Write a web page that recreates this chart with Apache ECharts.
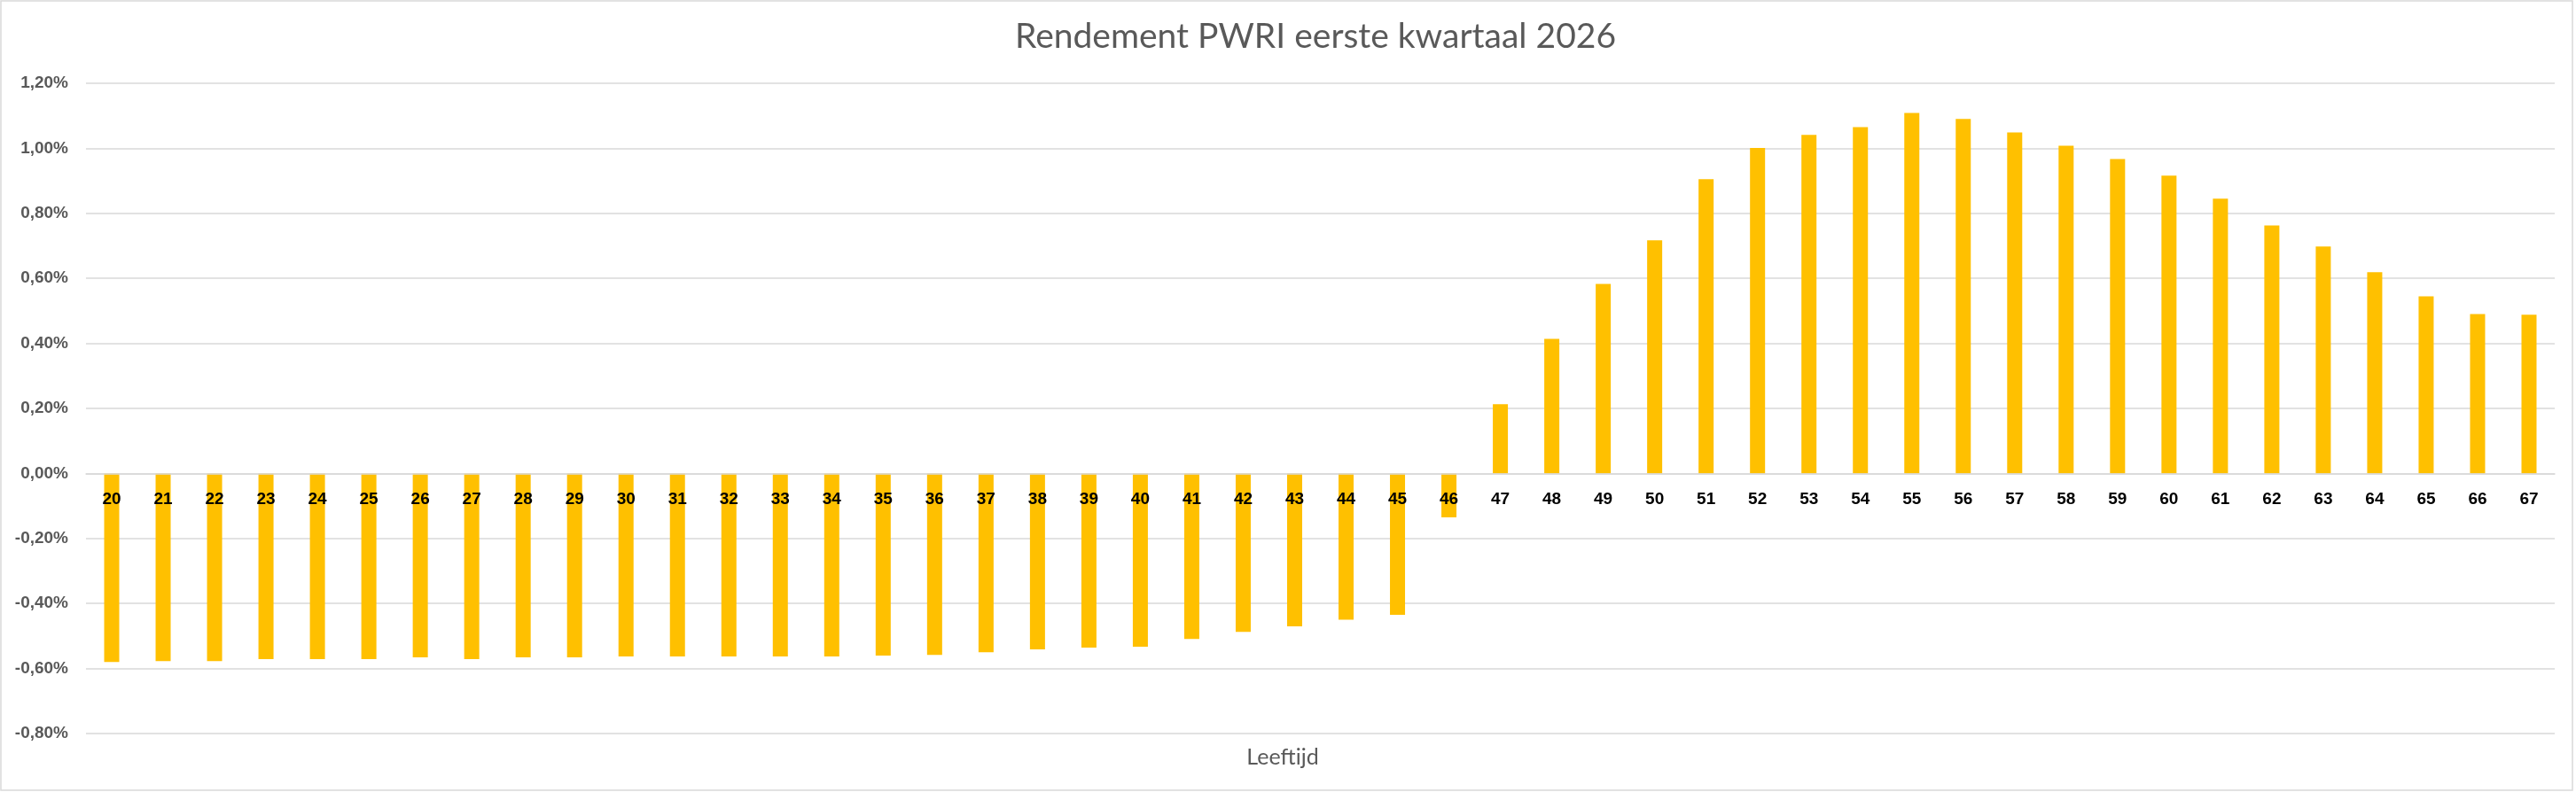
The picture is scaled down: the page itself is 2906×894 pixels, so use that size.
<!DOCTYPE html>
<html lang="nl">
<head>
    <title>Rendement PWRI eerste kwartaal 2026</title>
    <meta charset="utf-8" />
    <script src="https://cdn.jsdelivr.net/npm/echarts@6/dist/echarts.min.js"></script>
    <style>
        body {
            margin: 0;
            background-color: #ffffff;
        }

        #main {
            width: 2906px;
            height: 894px;
        }
    </style>
    <script>
        // leeftijden 20 t/m 67
        let ages = ['20', '21', '22', '23', '24', '25', '26', '27', '28', '29',
            '30', '31', '32', '33', '34', '35', '36', '37', '38', '39',
            '40', '41', '42', '43', '44', '45', '46', '47', '48', '49',
            '50', '51', '52', '53', '54', '55', '56', '57', '58', '59',
            '60', '61', '62', '63', '64', '65', '66', '67']

        // rendement in procenten
        let returns = [-0.580, -0.577, -0.577, -0.571, -0.571, -0.571, -0.566, -0.571, -0.566, -0.566,
            -0.563, -0.563, -0.563, -0.563, -0.563, -0.560, -0.558, -0.550, -0.541, -0.536,
            -0.533, -0.509, -0.487, -0.470, -0.450, -0.435, -0.135, 0.213, 0.414, 0.583,
            0.717, 0.905, 1.001, 1.041, 1.065, 1.109, 1.090, 1.049, 1.008, 0.967,
            0.916, 0.845, 0.763, 0.698, 0.619, 0.545, 0.490, 0.488]

        let yMin = -0.8
        let yMax = 1.2
        let yStep = 0.2

        let gridTop = 94
        let gridBottom = 66
        let chartHeight = 894

        let colorBar = '#FFC000'
        let colorGrid = '#d9d9d9'
        let colorText = '#595959'
    </script>
</head>
<body>
<div id="main"></div>
<script type="text/javascript">
    let myChart = echarts.init(document.getElementById('main'), null, {renderer: 'canvas'});

    // onZero werkt hier niet, dus de x-as naar de nullijn schuiven
    let plotHeight = chartHeight - gridTop - gridBottom
    let zeroShift = plotHeight * (0 - yMin) / (yMax - yMin)

    myChart.setOption({
        animation: false,
        backgroundColor: '#ffffff',
        grid: {
            left: 97,
            right: 24,
            top: gridTop,
            bottom: gridBottom,
        },
        graphic: [
            {
                type: 'rect',
                shape: {x: 1, y: 1, width: 2901, height: 891},
                style: {fill: 'none', stroke: colorGrid, lineWidth: 1.5},
                silent: true,
            },
            {
                type: 'text',
                x: 1484,
                y: 22,
                style: {
                    text: 'Rendement PWRI eerste kwartaal 2026',
                    align: 'center',
                    verticalAlign: 'top',
                    fontFamily: 'Lato',
                    fontSize: 39,
                    fill: colorText,
                },
            },
            {
                type: 'text',
                x: 1447,
                y: 842,
                style: {
                    text: 'Leeftijd',
                    align: 'center',
                    verticalAlign: 'top',
                    fontFamily: 'Lato',
                    fontSize: 25,
                    fill: colorText,
                },
            },
        ],
        xAxis: {
            type: 'category',
            data: ages,
            offset: -zeroShift,
            z: 10,
            axisLine: {
                show: true,
                onZero: false,
                lineStyle: {color: colorGrid, width: 1.5},
            },
            axisTick: {show: false},
            axisLabel: {
                color: '#000000',
                fontFamily: 'Liberation Sans',
                fontWeight: 'bold',
                fontSize: 19,
                margin: 20,
            },
        },
        yAxis: {
            type: 'value',
            min: yMin,
            max: yMax,
            interval: yStep,
            splitLine: {
                lineStyle: {color: colorGrid, width: 1.5},
            },
            axisLabel: {
                color: colorText,
                fontFamily: 'Liberation Sans',
                fontWeight: 'bold',
                fontSize: 19,
                margin: 20,
                formatter: function (v) {
                    if (Math.abs(v) < 1e-9) {
                        v = 0
                    }
                    return v.toFixed(2).replace('.', ',') + '%'
                },
            },
        },
        series: [
            {
                type: 'bar',
                data: returns,
                barWidth: 17,
                z: 2,
                itemStyle: {color: colorBar},
            },
        ],
    });
</script>
</body>
</html>
